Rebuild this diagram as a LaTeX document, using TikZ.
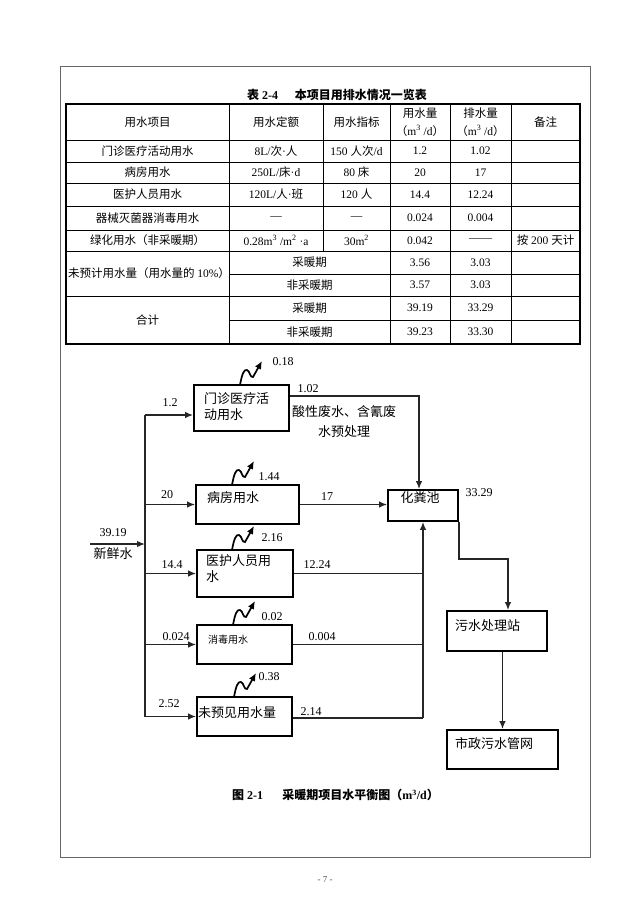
\documentclass[tikz,border=0pt]{standalone}
\usepackage{fontspec}
\setmainfont{Liberation Serif}
\newfontfamily\cjk{Noto Sans CJK SC}
\newcommand\zh[1]{{\cjk #1}}
\usetikzlibrary{arrows.meta,calc}
\newcommand\myloss[2]{\begin{scope}[shift={(#1,#2)}]
  \draw[wavy] (0,0) .. controls (2,-11) and (4,-16) .. (7,-15) .. controls (10,-14) and (10,-7) .. (13,-8) -- (22,-24);
\end{scope}}
\begin{document}
\begin{tikzpicture}[x=1pt,y=-1pt,
  tline/.style={line width=0.7pt},
  touter/.style={line width=1.9pt},
  tt/.style={font=\fontsize{11.5}{18}\selectfont, inner sep=0, align=center},
  box/.style={draw, line width=1.8pt, inner sep=0},
  dt/.style={font=\fontsize{13}{17}\selectfont\cjk, inner sep=0, anchor=west, align=left},
  nt/.style={font=\fontsize{12}{14}\selectfont, inner sep=0},
  line/.style={line width=1.4pt, draw=black!85},
  flow/.style={line, -{Latex[length=8pt,width=6.5pt]}},
  wavy/.style={line width=1.7pt, -{Latex[length=8pt,width=7pt]}},
  ttl/.style={font=\fontsize{12}{14}\selectfont\bfseries, inner sep=0}]
\useasboundingbox (0,0) rectangle (625,915);
\fill[white] (0,0) rectangle (625,915);
% page frame
\draw[black!60, line width=1pt] (60,67) rectangle (590,857);
\node[font=\fontsize{9}{10}\selectfont, text=black!70, inner sep=0] (pg) at (325,880) {- 7 -};

% ---------- table ----------
\node[ttl] (tbltitle) at (337,95) {\zh{表} 2-4\hspace{1.4em}\zh{本项目用排水情况一览表}};
\foreach \yy in {140,162,183,206,230,251,296} \draw[tline] (66,\yy) -- (580,\yy);
\foreach \yy in {274,320} \draw[tline] (229,\yy) -- (580,\yy);
\foreach \xx in {229,390,450,511} \draw[tline] (\xx,104) -- (\xx,344);
\draw[tline] (323,104) -- (323,251);
\draw[touter] (66,104) rectangle (580,344);

\node[tt] (h1) at (147.5,122) {\zh{用水项目}};
\node[tt] (h2) at (276,122) {\zh{用水定额}};
\node[tt] (h3) at (356.5,122) {\zh{用水指标}};
\node[tt] (h4) at (420,122) {\zh{用水量}\\\zh{（}m\textsuperscript{3} /d\zh{）}};
\node[tt] (h5) at (480.5,122) {\zh{排水量}\\\zh{（}m\textsuperscript{3} /d\zh{）}};
\node[tt] (h6) at (545.5,122) {\zh{备注}};

\node[tt] (a1) at (147.5,151) {\zh{门诊医疗活动用水}};
\node[tt] (a2) at (276,151) {8L/\zh{次}·\zh{人}};
\node[tt] (a3) at (356.5,151) {150 \zh{人次}/d};
\node[tt] (a4) at (420,151) {1.2};
\node[tt] (a5) at (480.5,151) {1.02};

\node[tt] (b1) at (147.5,172.5) {\zh{病房用水}};
\node[tt] (b2) at (276,172.5) {250L/\zh{床}·d};
\node[tt] (b3) at (356.5,172.5) {80 \zh{床}};
\node[tt] (b4) at (420,172.5) {20};
\node[tt] (b5) at (480.5,172.5) {17};

\node[tt] (c1) at (147.5,194.5) {\zh{医护人员用水}};
\node[tt] (c2) at (276,194.5) {120L/\zh{人}·\zh{班}};
\node[tt] (c3) at (356.5,194.5) {120 \zh{人}};
\node[tt] (c4) at (420,194.5) {14.4};
\node[tt] (c5) at (480.5,194.5) {12.24};

\node[tt] (d1) at (147.5,218) {\zh{器械灭菌器消毒用水}};
\node[tt] (d2) at (276,218) {—};
\node[tt] (d3) at (356.5,218) {—};
\node[tt] (d4) at (420,218) {0.024};
\node[tt] (d5) at (480.5,218) {0.004};

\node[tt] (e1) at (147.5,240.5) {\zh{绿化用水（非采暖期）}};
\node[tt] (e2) at (276,240.5) {0.28m\textsuperscript{3} /m\textsuperscript{2} ·a};
\node[tt] (e3) at (356.5,240.5) {30m\textsuperscript{2}};
\node[tt] (e4) at (420,240.5) {0.042};
\node[tt] (e5) at (480.5,240.5) {——};
\node[tt] (e6) at (545.5,240.5) {\zh{按} 200 \zh{天计}};

\node[tt] (f1) at (149,273.5) {\zh{未预计用水量（用水量的} 10\%\zh{）}};
\node[tt] (f2) at (309.5,262.5) {\zh{采暖期}};
\node[tt] (f4) at (420,262.5) {3.56};
\node[tt] (f5) at (480.5,262.5) {3.03};
\node[tt] (g2) at (309.5,285) {\zh{非采暖期}};
\node[tt] (g4) at (420,285) {3.57};
\node[tt] (g5) at (480.5,285) {3.03};

\node[tt] (k1) at (147.5,320) {\zh{合计}};
\node[tt] (k2) at (309.5,308) {\zh{采暖期}};
\node[tt] (k4) at (420,308) {39.19};
\node[tt] (k5) at (480.5,308) {33.29};
\node[tt] (m2) at (309.5,332) {\zh{非采暖期}};
\node[tt] (m4) at (420,332) {39.23};
\node[tt] (m5) at (480.5,332) {33.30};

% ---------- diagram ----------
\node[box, minimum width=95pt, minimum height=46pt] (mz) at (241.5,408) {};
\node[box, minimum width=103pt, minimum height=39pt] (bf) at (247.5,504.5) {};
\node[box, minimum width=96pt, minimum height=47pt] (yh) at (245,573.5) {};
\node[box, minimum width=95pt, minimum height=39pt] (xd) at (244.5,644.5) {};
\node[box, minimum width=95pt, minimum height=39pt] (wy) at (244.5,716.5) {};
\node[box, minimum width=70pt, minimum height=31pt] (hf) at (423,505.5) {};
\node[box, minimum width=100pt, minimum height=40pt] (ws) at (497,631) {};
\node[box, minimum width=111pt, minimum height=39pt] (sz) at (502.5,749.5) {};

\node[dt] (mzt) at (204,406.5) {门诊医疗活\\[-1pt]动用水};
\node[dt] (bft) at (207,498) {病房用水};
\node[dt] (yht) at (206,569) {医护人员用\\[-1pt]水};
\node[dt, font=\fontsize{10}{12}\selectfont\cjk] (xdt) at (208,640) {消毒用水};
\node[dt] (wyt) at (198,713) {未预见用水量};
\node[dt, anchor=center] (hft) at (420,498) {化粪池};
\node[dt] (wst) at (455,626) {污水处理站};
\node[dt] (szt) at (455,744) {市政污水管网};

% inflow and trunk
\coordinate (in0) at (90,544);
\coordinate (trTop) at (145,415);
\draw[flow] (in0) -- (in0 -| trTop);
\draw[line] (trTop) -- (wy.west -| trTop);
\draw[flow] (trTop) -- (trTop -| mz.west);
\draw[flow] (bf.west -| trTop) -- (bf.west);
\draw[flow] (yh.west -| trTop) -- (yh.west);
\draw[flow] (xd.west -| trTop) -- (xd.west);
\draw[flow] (wy.west -| trTop) -- (wy.west);

% outflows
\coordinate (mzo) at ($(mz.north east)+(0,12)$);
\draw[flow] (mzo) -| ([xshift=-4pt]hf.north);
\draw[flow] (bf.east) -- (bf.east -| hf.west);
\draw[line] (yh.east) -- (yh.east -| hf.south);
\draw[line] (xd.east) -- (xd.east -| hf.south);
\draw[line] ([yshift=-1.5pt]wy.east) -- ([yshift=-1.5pt]wy.east -| hf.south);
\draw[flow] ([yshift=-1.5pt]wy.east -| hf.south) -- (hf.south);
\draw[flow] (hf.south east) -- ++(0,37) -| ($(ws.north)+(11,0)$);
\draw[flow] (sz.north |- ws.south) -- (sz.north);

% loss arrows
\myloss{240}{385}
\myloss{232}{485}
\myloss{232}{550}
\myloss{233}{625}
\myloss{234}{697}

% labels
\node[nt] (l018) at (283,362) {0.18};
\node[nt] (l102) at (308,389) {1.02};
\node[dt, anchor=center, align=center] (lsx) at (344,422) {酸性废水、含氰废\\[3pt]水预处理};
\node[nt] (l12) at (170,403) {1.2};
\node[nt] (l20) at (167,495) {20};
\node[nt] (l144) at (269,477) {1.44};
\node[nt] (l17) at (327,497) {17};
\node[nt] (l216) at (272,538) {2.16};
\node[nt] (l3919) at (113,533) {39.19};
\node[dt, anchor=center] (lxx) at (113,554) {新鲜水};
\node[nt] (l144b) at (172,565) {14.4};
\node[nt] (l1224) at (317,565) {12.24};
\node[nt] (l002) at (272,617) {0.02};
\node[nt] (l0024) at (176,637) {0.024};
\node[nt] (l0004) at (322,637) {0.004};
\node[nt] (l038) at (269,677) {0.38};
\node[nt] (l252) at (169,704) {2.52};
\node[nt] (l214) at (311,712) {2.14};
\node[nt] (l3329) at (479,493) {33.29};

\node[ttl] (cap) at (335.5,795) {\zh{图} 2-1\hspace{1.6em}\zh{采暖期项目水平衡图（}m\textsuperscript{3}/d\zh{）}};
\end{tikzpicture}
\end{document}
